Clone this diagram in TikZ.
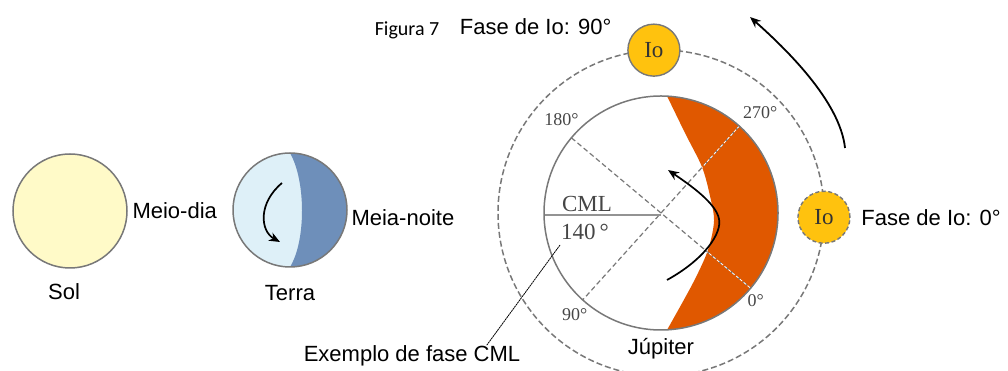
\documentclass[tikz,border=0pt]{standalone}
\usepackage{fontspec}
\setmainfont{Liberation Serif}
\setsansfont{Liberation Sans}
\newfontfamily\figfont{Carlito}
\usetikzlibrary{positioning, arrows.meta, backgrounds}

\definecolor{rimgray}{RGB}{120,120,120}
\definecolor{solyellow}{RGB}{255,250,200}
\definecolor{diablue}{RGB}{222,240,248}
\definecolor{noiteblue}{RGB}{110,143,186}
\definecolor{jorange}{RGB}{224,88,0}
\definecolor{iogold}{RGB}{255,194,14}
\definecolor{deggray}{RGB}{70,70,70}

\begin{document}
\begin{tikzpicture}[x=1pt, y=1pt,
    disc/.style={circle, inner sep=0pt, outer sep=0pt},
    planet/.style={disc, draw=rimgray, line width=1.5pt, minimum size=#1},
    planet/.default=114pt,
    moon/.style={disc, fill=iogold, draw=rimgray, line width=1.4pt, minimum size=52pt,
      font=\fontsize{23}{23}\selectfont, text=black!80},
    caption/.style={font=\sffamily\fontsize{22}{24}\selectfont},
    deg/.style={font=\fontsize{18}{18}\selectfont, text=deggray, inner sep=1pt},
    orbit/.style={rimgray, line width=1.5pt, dash pattern=on 6pt off 3pt},
    guide/.style={rimgray, line width=1.2pt, dash pattern=on 5pt off 3pt},
    leader/.style={black, line width=0.8pt, dash pattern=on 2pt off 0.6pt},
    spin/.style={line width=1.7pt, -{Stealth[length=11pt, width=9pt]}}]
  \useasboundingbox (0,0) rectangle (1008,371);

  % Sol e Terra
  \node[planet, fill=solyellow] (sol) at (70,160) {};
  \node[caption, below=12pt of sol, xshift=-6pt] {Sol};
  \node[caption, right=2pt of sol] (meiodia) {Meio-dia};
  \node[planet, fill=diablue, path picture={
      \fill[noiteblue] (path picture bounding box.south)
        arc[start angle=-90, end angle=90, radius=57]
        .. controls +(16,-28) and +(16,26) .. (path picture bounding box.south) -- cycle;}]
    (terra) at (290,161) {};
  \node[caption, below=15pt of terra] {Terra};
  \node[caption, right=1pt of terra, yshift=-8pt] (meianoite) {Meia-noite};
  \draw[spin] (282,188) .. controls (258,168) and (260,140) .. (280,129);

  % Jupiter
  \node[planet=234pt] (jup) at (661,158) {};
  \begin{scope}[on background layer]
    \fill[jorange, save path=\crescent] (jup.87) arc[start angle=87, end angle=-87, radius=117]
      -- plot[smooth] coordinates {(667,41) (693,88) (708,121) (714,150) (710,175)
        (702,204) (685,238) (667,275)} -- cycle;
    \draw[guide] (jup.140) -- (jup.-40);
    \draw[guide] (jup.48) -- (jup.228);
    \begin{scope}
      \clip[use path=\crescent];
      \draw[white, line width=0.8pt, dash pattern=on 3pt off 2pt] (jup.140) -- (jup.-40);
      \draw[white, line width=0.8pt, dash pattern=on 3pt off 2pt] (jup.48) -- (jup.228);
    \end{scope}
    \draw[rimgray!80, line width=1.6pt] ([yshift=-2pt]jup.180) -- ([yshift=-2pt]jup.center);
  \end{scope}
  \node[font=\fontsize{23}{23}\selectfont, text=deggray] at (587,167) {CML};
  \node[font=\fontsize{23}{23}\selectfont, text=deggray] at (585,139) {140\,°};
  \node[deg] at ([shift={(-10,18)}]jup.140) {180°};
  \node[deg] at ([shift={(21,13)}]jup.48) {270°};
  \node[deg] at ([shift={(-8,-15)}]jup.228) {90°};
  \node[deg] at ([shift={(5,-12)}]jup.-40) {0°};
  \draw[spin] (667,91) .. controls (705,112) and (722,138) .. (719,152)
    .. controls (716,168) and (690,186) .. (668,201);
  \node[caption, below=5pt of jup] {Júpiter};

  % orbita de Io
  \draw[orbit] (jup.center) circle[radius=163];
  \node[moon] (io90) at ([shift={(92.5:163)}]jup.center) {Io};
  \node[moon, dash pattern=on 4pt off 2.5pt] (io0) at ([shift={(-1.5:163)}]jup.center) {Io};
  \node[caption, right=8pt of io0] (fase0) {Fase de Io: 0°};
  \node[caption, above left=12pt and 13pt of io90.west] (fase90) {Fase de Io: 90°};
  \node[font=\figfont\fontsize{20}{20}\selectfont] (figura) at (407,341) {Figura 7};
  \draw[spin, line width=1.8pt] (845,223) .. controls (840,270) and (785,323) .. (750,354);

  % exemplo
  \node[caption] (exemplo) at (412,15) {Exemplo de fase CML};
  \coordinate (cmlpt) at (560,126);
  \draw[leader] (cmlpt) -- ([shift={(-37,-3)}]exemplo.north east);
\end{tikzpicture}
\end{document}
